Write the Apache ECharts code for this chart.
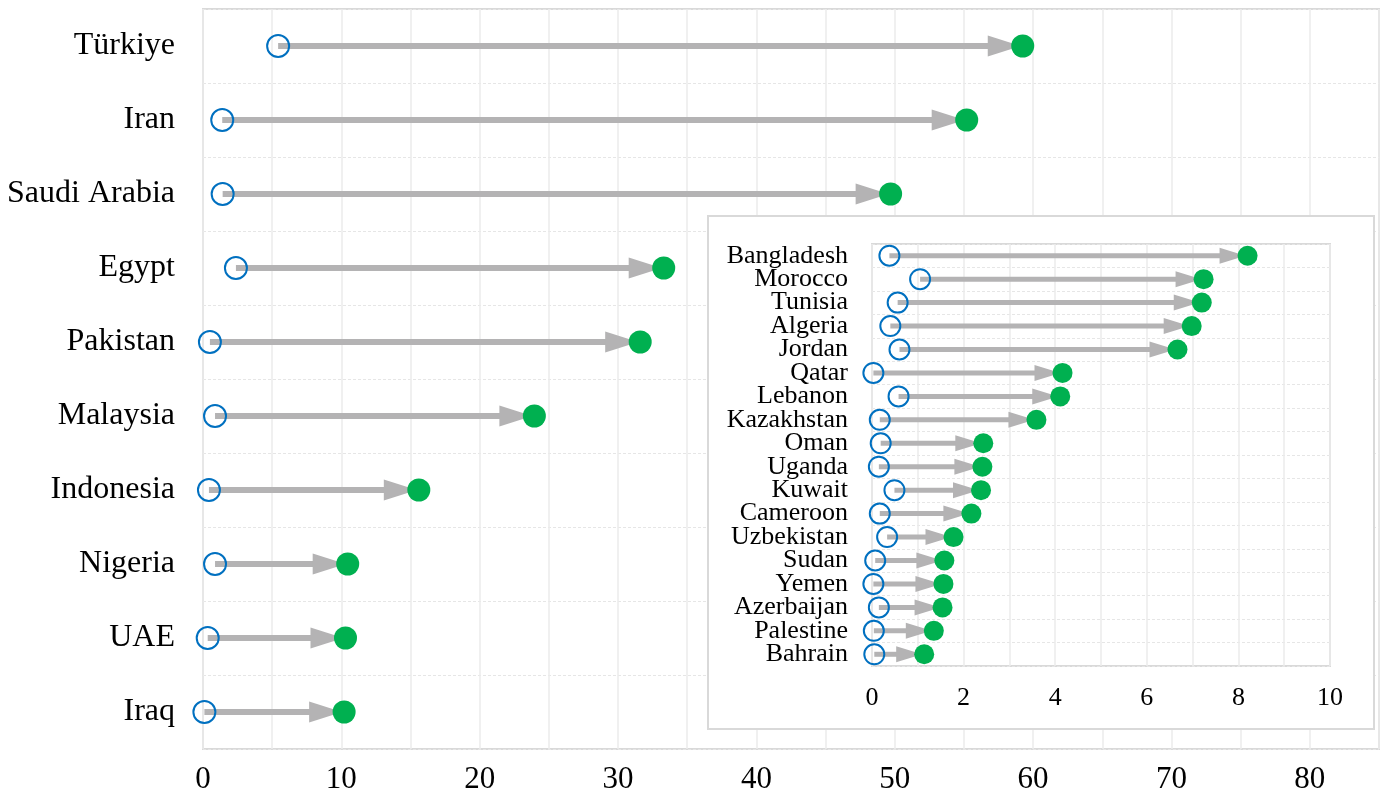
<!DOCTYPE html>
<html>
<head>
<meta charset="utf-8">
<script src="https://cdn.jsdelivr.net/npm/echarts@6/dist/echarts.min.js"></script>
<style>html,body{margin:0;padding:0;background:#fff;}#c{width:1382px;height:801px;}</style>
</head>
<body>
<div id="c"></div>
<script>
// ---- data ----
const mainCats = ['Türkiye','Iran','Saudi Arabia','Egypt','Pakistan','Malaysia','Indonesia','Nigeria','UAE','Iraq'];
const mainStart = [5.43, 1.39, 1.42, 2.38, 0.5, 0.87, 0.43, 0.87, 0.34, 0.1];
const mainEnd = [59.25, 55.2, 49.7, 33.3, 31.6, 23.95, 15.6, 10.46, 10.3, 10.2];
const mainTicks = [0, 10, 20, 30, 40, 50, 60, 70, 80];

const insetCats = ['Bangladesh','Morocco','Tunisia','Algeria','Jordan','Qatar','Lebanon','Kazakhstan','Oman','Uganda','Kuwait','Cameroon','Uzbekistan','Sudan','Yemen','Azerbaijan','Palestine','Bahrain'];
const insetStart = [0.38, 1.05, 0.56, 0.40, 0.60, 0.03, 0.58, 0.17, 0.19, 0.15, 0.49, 0.17, 0.33, 0.07, 0.03, 0.15, 0.04, 0.05];
const insetEnd = [8.20, 7.24, 7.20, 6.98, 6.67, 4.16, 4.11, 3.59, 2.43, 2.41, 2.38, 2.17, 1.78, 1.58, 1.56, 1.54, 1.35, 1.14];
const insetTicks = [0, 2, 4, 6, 8, 10];

// ---- styles ----
const FONT = '"Liberation Serif", "Times New Roman", serif';
const GRAY = '#b4b3b4';
const BLUE = '#0070c0';
const GREEN = '#00b050';

function arrowRender(cfg) {
  return function (params, api) {
    const c = api.value(2);
    const p0 = api.coord([api.value(0), c]);
    const p1 = api.coord([api.value(1), c]);
    const y = p0[1];
    const base = p1[0] - cfg.head;
    const tip = p1[0] - cfg.tipGap;
    return {
      type: 'group',
      children: [
        { type: 'line', shape: { x1: p0[0], y1: y, x2: base + 1, y2: y }, style: { stroke: GRAY, lineWidth: cfg.lw } },
        { type: 'polygon', shape: { points: [[base, y - cfg.hh], [base, y + cfg.hh], [tip, y]] }, style: { fill: GRAY } }
      ]
    };
  };
}

const chart = echarts.init(document.getElementById('c'), null, { renderer: 'canvas' });
chart.setOption({
  backgroundColor: '#fff',
  animation: false,
  graphic: {
    elements: [{
      type: 'rect', z: 5, left: 707, top: 215,
      shape: { width: 666, height: 513 },
      style: { fill: '#fff', stroke: '#d9d9d9', lineWidth: 2 }
    }]
  },
  grid: [
    { left: 203, top: 9, right: 2, bottom: 52, show: true, borderColor: '#d9d9d9', borderWidth: 2, containLabel: false },
    { left: 872, top: 244, right: 52, bottom: 135, show: true, borderColor: '#d9d9d9', borderWidth: 2, z: 10, containLabel: false }
  ],
  xAxis: [
    {
      gridIndex: 0, type: 'value', min: 0, max: 85, interval: 5,
      axisLine: { show: false }, axisTick: { show: false },
      axisLabel: {
        fontFamily: FONT, fontSize: 31, color: '#000', margin: 15,
        formatter: v => mainTicks.indexOf(v) >= 0 ? String(v) : ''
      },
      splitLine: { show: true, lineStyle: { color: '#ebebeb', width: 1.5 } }
    },
    {
      gridIndex: 1, type: 'value', min: 0, max: 10, interval: 1, z: 10,
      axisLine: { show: false }, axisTick: { show: false },
      axisLabel: {
        fontFamily: FONT, fontSize: 26, color: '#000', margin: 19,
        formatter: v => insetTicks.indexOf(v) >= 0 ? String(v) : ''
      },
      splitLine: { show: true, lineStyle: { color: '#ebebeb', width: 1.5 } }
    }
  ],
  yAxis: [
    {
      gridIndex: 0, type: 'category', data: mainCats, inverse: true,
      axisLine: { show: false }, axisTick: { show: false },
      axisLabel: { fontFamily: FONT, fontSize: 32, color: '#000', margin: 28, interval: 0 },
      splitLine: { show: true, lineStyle: { color: '#e6e6e6', type: [3, 2], width: 1 } }
    },
    {
      gridIndex: 1, type: 'category', data: insetCats, inverse: true, z: 10,
      axisLine: { show: false }, axisTick: { show: false },
      axisLabel: { fontFamily: FONT, fontSize: 26, color: '#000', margin: 24, interval: 0 },
      splitLine: { show: true, lineStyle: { color: '#e6e6e6', type: [3, 2], width: 1 } }
    }
  ],
  series: [
    {
      type: 'custom', xAxisIndex: 0, yAxisIndex: 0, z: 3,
      renderItem: arrowRender({ head: 35, tipGap: 2, hh: 10.5, lw: 6 }),
      encode: { x: [0, 1], y: 2 },
      data: mainCats.map((c, i) => [mainStart[i], mainEnd[i], i])
    },
    {
      type: 'scatter', xAxisIndex: 0, yAxisIndex: 0, z: 4, symbol: 'circle', symbolSize: 22,
      itemStyle: { color: 'rgba(0,0,0,0)', borderColor: BLUE, borderWidth: 2, opacity: 1 },
      data: mainCats.map((c, i) => [mainStart[i], c])
    },
    {
      type: 'scatter', xAxisIndex: 0, yAxisIndex: 0, z: 4, symbol: 'circle', symbolSize: 23,
      itemStyle: { color: GREEN, opacity: 1 },
      data: mainCats.map((c, i) => [mainEnd[i], c])
    },
    {
      type: 'custom', xAxisIndex: 1, yAxisIndex: 1, z: 12,
      renderItem: arrowRender({ head: 28, tipGap: 2, hh: 8, lw: 5 }),
      encode: { x: [0, 1], y: 2 },
      data: insetCats.map((c, i) => [insetStart[i], insetEnd[i], i])
    },
    {
      type: 'scatter', xAxisIndex: 1, yAxisIndex: 1, z: 13, symbol: 'circle', symbolSize: 20,
      itemStyle: { color: 'rgba(0,0,0,0)', borderColor: BLUE, borderWidth: 2, opacity: 1 },
      data: insetCats.map((c, i) => [insetStart[i], c])
    },
    {
      type: 'scatter', xAxisIndex: 1, yAxisIndex: 1, z: 13, symbol: 'circle', symbolSize: 20,
      itemStyle: { color: GREEN, opacity: 1 },
      data: insetCats.map((c, i) => [insetEnd[i], c])
    }
  ]
});
</script>
</body>
</html>
